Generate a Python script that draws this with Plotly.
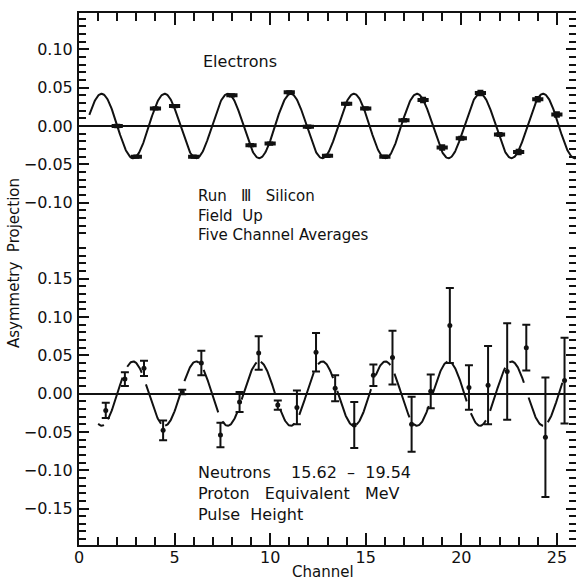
import numpy as np
import plotly.graph_objects as go

# ---------------- data ----------------
electron_channel = [2, 3, 4, 5, 6, 8, 9, 10, 11, 12, 13, 14, 15, 16, 17, 18, 19, 20, 21, 22, 23, 24, 25]
electron_asym = [0.000, -0.040, 0.023, 0.026, -0.040, 0.040, -0.025, -0.023, 0.044, -0.001, -0.039,
                 0.029, 0.023, -0.040, 0.0075, 0.034, -0.028, -0.016, 0.043, -0.011, -0.034, 0.035, 0.015]
electron_err = [0.0015, 0.0015, 0.0015, 0.0015, 0.0015, 0.0015, 0.0015, 0.0015, 0.0015, 0.0015, 0.0015,
                0.0015, 0.0015, 0.0015, 0.0015, 0.003, 0.003, 0.002, 0.003, 0.002, 0.003, 0.003, 0.003]

neutron_channel = [1.4, 2.4, 3.4, 4.4, 5.4, 6.4, 7.4, 8.4, 9.4, 10.4, 11.4, 12.4, 13.4, 14.4, 15.4,
                   16.4, 17.4, 18.4, 19.4, 20.4, 21.4, 22.4, 23.4, 24.4, 25.4]
neutron_asym = [-0.022, 0.019, 0.033, -0.048, 0.002, 0.040, -0.054, -0.011, 0.053, -0.015, -0.018,
                0.054, 0.007, -0.041, 0.024, 0.047, -0.040, 0.003, 0.089, 0.008, 0.011, 0.029,
                0.060, -0.057, 0.017]
neutron_err = [0.010, 0.009, 0.010, 0.013, 0.003, 0.016, 0.016, 0.013, 0.022, 0.006, 0.022, 0.025,
               0.017, 0.030, 0.014, 0.035, 0.036, 0.022, 0.049, 0.029, 0.051, 0.063, 0.030, 0.078, 0.056]

# fitted precession curve parameters
fit_amplitude = 0.042
fit_period = 3.30
fit_peak_channel = 1.18
electron_curve_span = [0.54, 26.0]
neutron_curve_span = [1.0, 25.45]

x_major_step, x_minor_step = 5, 1
y_major_step, y_minor_step = 0.05, 0.01

# ---------------- curves ----------------
def fit_curve(span, sign, gaps=None, gap_half=0.1):
    xs = np.linspace(span[0], span[1], 900)
    ys = sign * fit_amplitude * np.cos(2 * np.pi * (xs - fit_peak_channel) / fit_period)
    ys = ys.astype(object)
    if gaps is not None:
        for g in gaps:
            ys[np.abs(xs - g) < gap_half] = None
    return xs, ys

ex, ey = fit_curve(electron_curve_span, 1.0)
nx, ny = fit_curve(neutron_curve_span, -1.0, gaps=neutron_channel)

BLACK = "#111111"
fig = go.Figure()
fig.add_trace(go.Scatter(x=ex, y=ey, mode="lines", line=dict(color=BLACK, width=2),
                         xaxis="x2", yaxis="y", showlegend=False, hoverinfo="skip"))
fig.add_trace(go.Scatter(x=electron_channel, y=electron_asym, mode="markers",
                         marker=dict(symbol="line-ew", size=8, line=dict(color=BLACK, width=4)),
                         error_y=dict(type="data", array=electron_err, color=BLACK, thickness=2, width=3),
                         xaxis="x2", yaxis="y", showlegend=False))
fig.add_trace(go.Scatter(x=nx, y=ny, mode="lines", line=dict(color=BLACK, width=2),
                         connectgaps=False, xaxis="x", yaxis="y2", showlegend=False, hoverinfo="skip"))
fig.add_trace(go.Scatter(x=neutron_channel, y=neutron_asym, mode="markers",
                         marker=dict(symbol="circle", size=5, color=BLACK),
                         error_y=dict(type="data", array=neutron_err, color=BLACK, thickness=2, width=4),
                         xaxis="x", yaxis="y2", showlegend=False))
# invisible anchor traces for the right-hand tick-only axes
fig.add_trace(go.Scatter(x=[1], y=[0], mode="markers", marker=dict(opacity=0), xaxis="x2", yaxis="y3",
                         showlegend=False, hoverinfo="skip"))
fig.add_trace(go.Scatter(x=[1], y=[0], mode="markers", marker=dict(opacity=0), xaxis="x", yaxis="y4",
                         showlegend=False, hoverinfo="skip"))

# ---------------- layout ----------------
W, H = 576, 581
ml, mr, mt, mb = 79, 0, 13, 36
plot_h = H - mt - mb
px_per_unit = 766.0
top_zero_px, bot_zero_px = 126.0, 393.6
split_px = 240.6
split_frac = (H - mb - split_px) / plot_h
top_range = [-(split_px - top_zero_px) / px_per_unit, (top_zero_px - mt) / px_per_unit]
bot_range = [-(H - mb - bot_zero_px) / px_per_unit, (bot_zero_px - split_px) / px_per_unit]
x_range = [0, 26.0]

FONT = "DejaVu Sans"

x_common = dict(range=x_range, tickmode="linear", tick0=0, dtick=x_major_step,
                ticks="inside", ticklen=12, tickwidth=2, tickcolor=BLACK,
                showline=True, linecolor=BLACK, linewidth=2, showgrid=False, zeroline=False,
                minor=dict(tick0=0, dtick=x_minor_step, ticks="inside", ticklen=8, tickwidth=2,
                           tickcolor=BLACK, showgrid=False))

def y_main(domain, anchor, rng):
    return dict(domain=domain, anchor=anchor, range=rng, tickmode="linear", tick0=0,
                dtick=y_major_step, tickformat=".2f", ticks="inside", ticklen=10, tickwidth=2,
                tickcolor=BLACK, showline=True, linecolor=BLACK, linewidth=2, mirror=False,
                showgrid=False, zeroline=True, zerolinecolor=BLACK, zerolinewidth=2,
                ticklabelstandoff=1,
                minor=dict(tick0=0, dtick=y_minor_step, ticks="inside", ticklen=7, tickwidth=2,
                           tickcolor=BLACK, showgrid=False))

def y_right(over, anchor, rng):
    return dict(overlaying=over, anchor=anchor, side="right", range=rng, tickmode="linear",
                tick0=0, dtick=y_major_step, ticks="inside", ticklen=10, tickwidth=2,
                tickcolor=BLACK, showline=False, showticklabels=False, showgrid=False,
                zeroline=False,
                minor=dict(tick0=0, dtick=y_minor_step, ticks="inside", ticklen=7, tickwidth=2,
                           tickcolor=BLACK, showgrid=False))

fig.update_layout(
    width=W, height=H,
    margin=dict(l=ml, r=mr, t=mt, b=mb),
    paper_bgcolor="white", plot_bgcolor="white",
    font=dict(family=FONT, size=16, color=BLACK),
    xaxis=dict(domain=[0, 1], anchor="y2", side="bottom", ticklabelstandoff=-3, **x_common),
    xaxis2=dict(domain=[0, 1], anchor="y", side="top", showticklabels=False, **x_common),
    yaxis=y_main([split_frac, 1], "x2", top_range),
    yaxis2=y_main([0, split_frac], "x", bot_range),
    yaxis3=y_right("y", "x2", top_range),
    yaxis4=y_right("y2", "x", bot_range),
)

def px_x(px):
    return (px - ml) / (W - ml - mr)

def px_y(py):
    return (H - mb - py) / plot_h

NB = "\u00a0"
S2 = NB * 2
S3 = NB * 3
annots = [
    dict(text="Electrons", x=px_x(201), y=px_y(61), xanchor="left", yanchor="middle", size=16),
    dict(text=f"Run{S3}Ⅲ{S3}Silicon<br>Field{S2}Up<br>Five Channel Averages",
         x=px_x(196), y=px_y(216), xanchor="left", yanchor="middle", align="left", size=15),
    dict(text=f"Neutrons{NB * 4}15.62{S2}–{S2}19.54<br>Proton{S3}Equivalent{S3}MeV<br>Pulse{S2}Height",
         x=px_x(196), y=px_y(493), xanchor="left", yanchor="middle", align="left", size=16),
    dict(text="Channel", x=px_x(323), y=px_y(572), xanchor="center", yanchor="middle", size=15),
    dict(text=f"Asymmetry{S2}Projection", x=px_x(14), y=px_y(263), xanchor="center",
         yanchor="middle", textangle=-90, size=15),
]
for a in annots:
    size = a.pop("size")
    fig.add_annotation(xref="paper", yref="paper", showarrow=False,
                       font=dict(family=FONT, size=size, color=BLACK), **a)

fig.write_html("out.html")
